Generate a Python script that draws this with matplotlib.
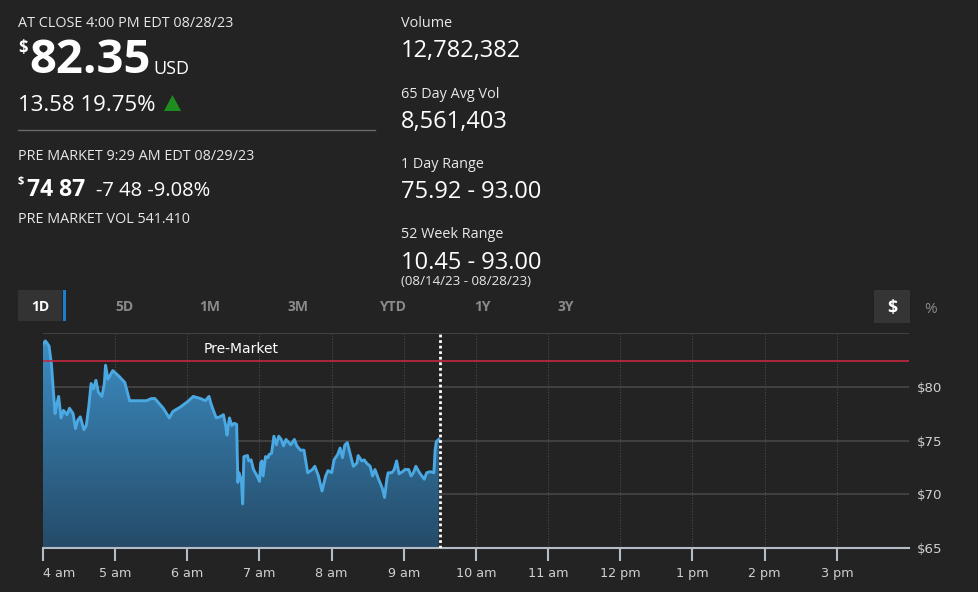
import numpy as np
import matplotlib
matplotlib.use("Agg")
import matplotlib.pyplot as plt
from matplotlib.patches import Rectangle, Polygon

plt.rcParams["font.family"] = ["Open Sans", "DejaVu Sans"]

W, H = 979, 592
BG = "#232323"

# pre-market prices, 08/29/23
times = ["04:00", "04:02", "04:05", "04:07", "04:10", "04:11", "04:13", "04:15", "04:17", "04:20",
         "04:22", "04:25", "04:27", "04:29", "04:31", "04:34", "04:36", "04:38", "04:40", "04:42",
         "04:44", "04:46", "04:49", "04:51", "04:52", "04:54", "04:58", "05:03", "05:08", "05:12",
         "05:18", "05:26", "05:30", "05:33", "05:40", "05:45", "05:48", "05:54", "06:00", "06:05",
         "06:11", "06:15", "06:18", "06:20", "06:24", "06:27", "06:30", "06:32", "06:33", "06:35",
         "06:37", "06:39", "06:41", "06:42", "06:43", "06:45", "06:46", "06:47", "06:50", "06:51",
         "06:53", "06:55", "06:58", "07:00", "07:01", "07:02", "07:03", "07:05", "07:07", "07:08",
         "07:10", "07:12", "07:14", "07:16", "07:18", "07:20", "07:22", "07:26", "07:29", "07:31",
         "07:34", "07:37", "07:40", "07:44", "07:46", "07:49", "07:52", "07:55", "07:57", "08:00",
         "08:02", "08:05", "08:07", "08:09", "08:11", "08:13", "08:16", "08:18", "08:21", "08:22",
         "08:25", "08:27", "08:29", "08:32", "08:34", "08:36", "08:39", "08:42", "08:44", "08:46",
         "08:47", "08:50", "08:52", "08:54", "08:56", "08:59", "09:01", "09:04", "09:06", "09:08",
         "09:10", "09:13", "09:17", "09:19", "09:22", "09:25", "09:26", "09:27", "09:29"]
prices = [83.96, 84.26, 83.80, 82.10, 77.50, 78.10, 79.10, 77.10, 77.80, 77.40,
          78.00, 77.50, 76.10, 76.90, 77.20, 76.00, 76.40, 78.10, 80.30, 79.80,
          80.60, 79.50, 79.10, 80.30, 82.00, 80.70, 81.50, 81.00, 80.40, 78.70,
          78.70, 78.70, 78.90, 78.90, 78.00, 77.10, 77.70, 78.10, 78.60, 79.10,
          78.90, 78.70, 79.10, 78.30, 77.10, 77.20, 77.40, 76.30, 75.50, 77.10,
          76.40, 76.60, 76.50, 71.10, 72.00, 71.20, 69.10, 73.50, 73.60, 73.10,
          73.20, 72.30, 71.70, 71.20, 72.90, 73.10, 71.70, 73.50, 73.40, 73.70,
          73.80, 75.40, 74.60, 75.40, 75.10, 74.50, 75.10, 74.60, 75.10, 74.50,
          74.10, 74.10, 72.00, 72.30, 72.60, 71.70, 70.30, 71.70, 72.20, 72.00,
          73.20, 73.70, 74.30, 73.40, 74.60, 74.80, 73.50, 72.60, 72.90, 73.60,
          73.10, 73.20, 72.90, 72.60, 71.70, 72.30, 71.40, 70.60, 69.70, 71.50,
          72.00, 72.00, 72.30, 73.10, 71.90, 72.10, 72.30, 72.30, 71.70, 72.00,
          72.60, 72.00, 71.40, 72.00, 72.10, 72.00, 74.10, 74.90, 75.10]
prev_close = 82.35
hour_ticks = [4, 5, 6, 7, 8, 9, 10, 11, 12, 13, 14, 15]
hour_labels = ["4 am", "5 am", "6 am", "7 am", "8 am", "9 am", "10 am",
               "11 am", "12 pm", "1 pm", "2 pm", "3 pm"]
price_ticks = [65, 70, 75, 80]
tabs = ["1D", "5D", "1M", "3M", "YTD", "1Y", "3Y"]
tab_x = [40, 124, 210, 298, 392, 482, 566]

x = np.array([int(t[:2]) + int(t[3:]) / 60 for t in times])
y = np.array(prices)


def px(xp, yp):
    return xp / W, 1 - yp / H


fig = plt.figure(figsize=(W / 100, H / 100), dpi=100, facecolor=BG)

# ---- header text ----
def txt(xp, yp, s, size, color="white", weight="normal", **kw):
    fig.text(*px(xp, yp), s, fontsize=size, color=color, weight=weight,
             va="baseline", ha=kw.pop("ha", "left"), **kw)

txt(18, 27, "AT CLOSE 4:00 PM EDT 08/28/23", 10.4, color="#e8e8e8")
txt(18, 53, "$", 12, weight="bold")
txt(29, 73, "82.35", 34, weight="bold")
txt(153, 74, "USD", 13)
txt(18, 111, "13.58 19.75%", 16)
fig.patches.append(Polygon([px(164, 111), px(181, 111), px(172.5, 95)], closed=True,
                           transform=fig.transFigure, facecolor="#1e8c1e", edgecolor="none"))
fig.add_artist(plt.Line2D([18 / W, 375 / W], [1 - 130 / H] * 2, color="#6a6a6a", lw=1))
txt(18, 160, "PRE MARKET 9:29 AM EDT 08/29/23", 10.4, color="#e8e8e8")
txt(18, 184, "$", 8, weight="bold")
txt(27, 196, "74 87", 16.5, weight="bold")
txt(96, 196, "-7 48 -9.08%", 14.5)
txt(18, 223, "PRE MARKET VOL 541.410", 10.4, color="#e8e8e8")

rx = 401
txt(rx, 27, "Volume", 10.4, color="#e8e8e8")
txt(rx, 57, "12,782,382", 17)
txt(rx, 98, "65 Day Avg Vol", 10.4, color="#e8e8e8")
txt(rx, 128, "8,561,403", 17)
txt(rx, 168, "1 Day Range", 10.4, color="#e8e8e8")
txt(rx, 198, "75.92 - 93.00", 17)
txt(rx, 238, "52 Week Range", 10.4, color="#e8e8e8")
txt(rx, 269, "10.45 - 93.00", 17)
txt(rx, 285, "(08/14/23 - 08/28/23)", 9.6, color="#e8e8e8")

# ---- tabs ----
fig.patches.append(Rectangle(px(18, 321), 44 / W, 31 / H, transform=fig.transFigure,
                             facecolor="#333333", edgecolor="none"))
fig.patches.append(Rectangle(px(63, 321), 3 / W, 31 / H, transform=fig.transFigure,
                             facecolor="#1a7fd0", edgecolor="none"))
for label, xp in zip(tabs, tab_x):
    c = "white" if label == "1D" else "#8a8a8a"
    txt(xp, 311, label, 10, color=c, weight="bold", ha="center", fontstretch="condensed")
fig.patches.append(Rectangle(px(874, 323), 36 / W, 33 / H, transform=fig.transFigure,
                             facecolor="#353535", edgecolor="none"))
txt(892, 313, "$", 13, weight="bold", ha="center")
txt(931, 313, "%", 11, color="#8a8a8a", ha="center")

# ---- chart ----
ax = fig.add_axes([43 / W, 44 / H, 866 / W, 215 / H])
ax.set_facecolor(BG)
ax.set_xlim(4, 16)
ax.set_ylim(65, 85)

for p in [70, 75, 80, 85]:
    ax.axhline(p, color="#474747", lw=1.2, zorder=1)
for h in hour_ticks[1:]:
    ax.axvline(h, color="#4a4a4a", lw=0.8, ls=(0, (1, 1.5)), zorder=1)

# gradient area under the line
poly = ax.fill_between(x, y, 65, color="none", zorder=2)
grad = np.linspace(1, 0, 256).reshape(-1, 1)
cmap = matplotlib.colors.LinearSegmentedColormap.from_list("g", ["#254b68", "#3d8fc6"])
im = ax.imshow(grad, cmap=cmap, aspect="auto", extent=[4, 16, 65, 85], origin="upper",
               zorder=2)
im.set_clip_path(poly.get_paths()[0], transform=ax.transData)
ax.plot(x, y, color="#4aa8e2", lw=2.1, zorder=3, solid_joinstyle="round")

ax.axhline(prev_close, color="#c3283f", lw=1.2, zorder=4)
ax.axvline(9.5, color="white", lw=2, ls=(0, (1, 1)), zorder=5)
ax.text((4 + 9.5) / 2, 83.55, "Pre-Market", color="white", fontsize=10,
        ha="center", va="center", family=["DejaVu Sans"], zorder=6)

for s in ["top", "left", "right"]:
    ax.spines[s].set_visible(False)
ax.spines["bottom"].set_color("#b4bcc8")
ax.spines["bottom"].set_linewidth(1.5)

ax.set_xticks(hour_ticks)
ax.set_xticklabels(hour_labels)
ax.tick_params(axis="x", length=9, width=1.5, color="#b4bcc8", labelcolor="#d0d0d0",
               labelsize=9.2, pad=5)
ax.get_xticklabels()[0].set_horizontalalignment("left")
ax.yaxis.tick_right()
ax.set_yticks(price_ticks)
ax.set_yticklabels(["$%d" % p for p in price_ticks])
ax.tick_params(axis="y", length=0, labelcolor="#d0d0d0", labelsize=9.6, pad=6)
for lbl in ax.get_xticklabels() + ax.get_yticklabels():
    lbl.set_family(["DejaVu Sans"])

fig.savefig("out.png", dpi=100, facecolor=BG)
